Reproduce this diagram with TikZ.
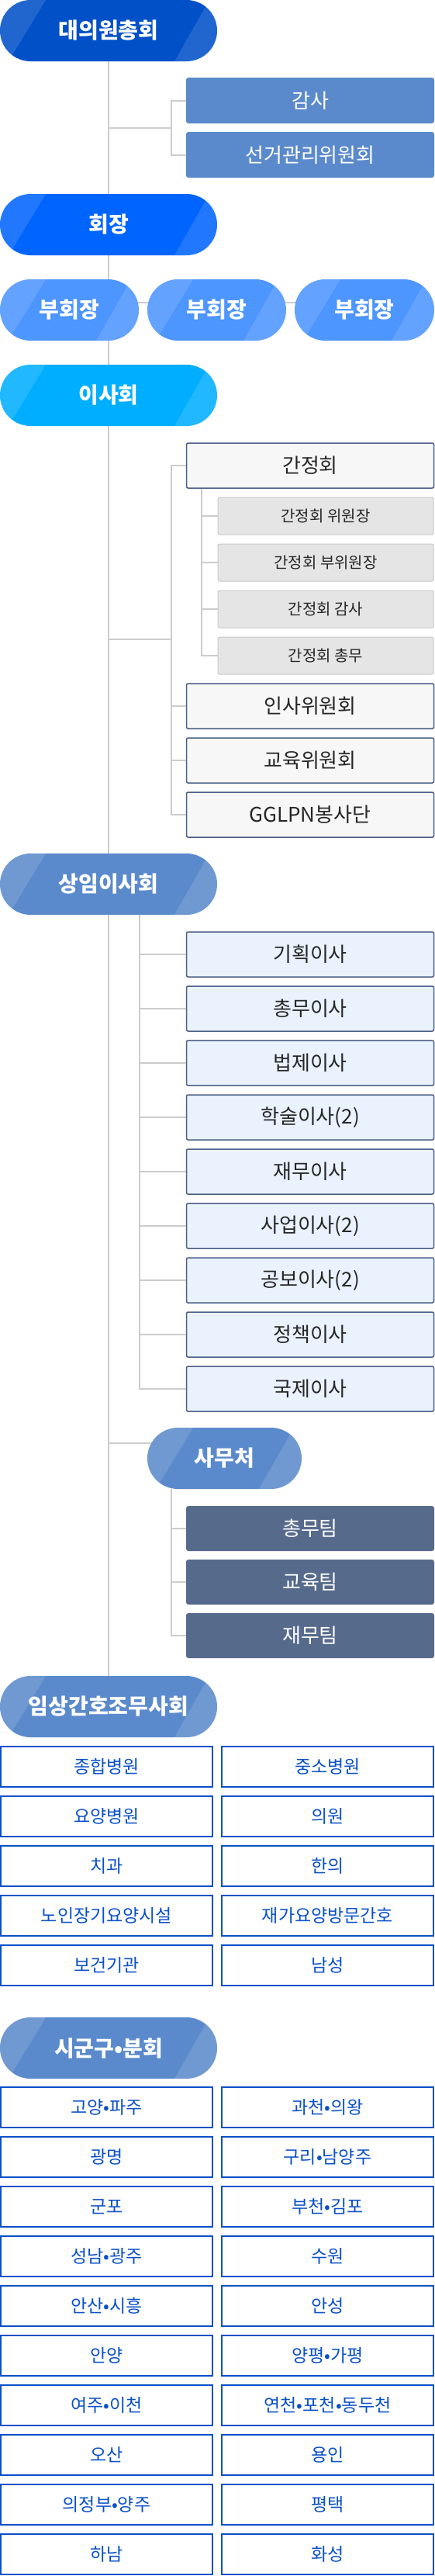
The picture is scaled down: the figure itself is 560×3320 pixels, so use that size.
\documentclass[tikz,border=0pt]{standalone}
\usepackage{fontspec}
\setmainfont{Noto Sans CJK KR}
\usetikzlibrary{positioning,backgrounds}
\definecolor{genblue}{HTML}{0050C8}
\definecolor{presblue}{HTML}{0064FF}
\definecolor{vpblue}{HTML}{4D95FF}
\definecolor{boardblue}{HTML}{00AEFF}
\definecolor{steel}{HTML}{5B8ACC}
\definecolor{slate}{HTML}{4B5F87}
\definecolor{team}{HTML}{566A8C}
\definecolor{gridblue}{HTML}{0A50C8}
\definecolor{lineclr}{HTML}{CCCCCC}
\definecolor{kidbg}{HTML}{F7F7F7}
\definecolor{subbg}{HTML}{E5E5E5}
\definecolor{subline}{HTML}{C8C8C8}
\definecolor{exbg}{HTML}{EAF2FE}

\begin{document}
\begin{tikzpicture}[x=1pt,y=-1pt,
    pill/.style={
      rounded corners=39.5pt,minimum width=280pt,minimum height=79pt,
      inner sep=0pt,outer sep=0pt,text=white,
      font=\fontsize{28}{32}\selectfont\bfseries,
      path picture={
        \fill[white,opacity=.13,sharp corners]
          (path picture bounding box.north west) --
          ([xshift=59pt]path picture bounding box.north west) --
          ([xshift=11pt]path picture bounding box.south west) --
          (path picture bounding box.south west) -- cycle;
        \fill[white,opacity=.13,sharp corners]
          ([xshift=-10pt]path picture bounding box.north east) --
          (path picture bounding box.north east) --
          (path picture bounding box.south east) --
          ([xshift=-55pt]path picture bounding box.south east) -- cycle;
      }
    },
    box/.style={
      minimum width=320pt,minimum height=59pt,inner sep=0pt,outer sep=0pt,
      font=\fontsize{26}{30}\selectfont
    },
    audbox/.style={box,fill=steel,text=white,rounded corners=3pt},
    kid/.style={box,minimum width=319pt,minimum height=58pt,draw=slate,
      line width=1.5pt,fill=kidbg,text=black!85,rounded corners=2pt},
    subkid/.style={box,minimum width=278pt,minimum height=48pt,
      draw=subline,line width=1pt,fill=subbg,text=black!85,
      font=\fontsize{20}{24}\selectfont,rounded corners=2pt},
    exkid/.style={kid,fill=exbg},
    teambox/.style={box,minimum height=58pt,fill=team,text=white,
      rounded corners=3pt},
    cell/.style={
      minimum width=273pt,minimum height=52pt,inner sep=0pt,outer sep=0pt,
      draw=gridblue,line width=1.2pt,text=gridblue,
      font=\fontsize{23}{27}\selectfont
    },
    link/.style={draw=lineclr,line width=2pt}
  ]
  \useasboundingbox (0,0) rectangle (560,3320);

  % The general assembly and its audit boxes.
  \node[pill,fill=genblue] (gen) at (140,39.5) {대의원총회};
  \node[audbox] (aud1) at (400,129.5) {감사};
  \node[audbox,below=11pt of aud1] (aud2) {선거관리위원회};

  % President and vice-presidents.
  \node[pill,fill=presblue] (pres) at (140,289.5) {회장};
  \node[pill,minimum width=179pt,fill=vpblue] (vp1) at (89.5,399.5) {부회장};
  \node[pill,minimum width=179pt,fill=vpblue,right=11pt of vp1] (vp2) {부회장};
  \node[pill,minimum width=180pt,fill=vpblue,right=11pt of vp2] (vp3) {부회장};

  % The board and its committees.
  \node[pill,fill=boardblue] (board) at (140,509.5) {이사회};
  \node[kid] (gan) at (400,600) {간정회};
  \node[subkid] (s1) at (420,665) {간정회 위원장};
  \node[subkid,below=12pt of s1] (s2) {간정회 부위원장};
  \node[subkid,below=12pt of s2] (s3) {간정회 감사};
  \node[subkid,below=12pt of s3] (s4) {간정회 총무};
  \node[kid] (ins) at (400,910) {인사위원회};
  \node[kid,below=12pt of ins] (edu) {교육위원회};
  \node[kid,below=12pt of edu] (ggl) {GGLPN봉사단};

  % Standing board.
  \node[pill,fill=steel] (exec) at (140,1139.5) {상임이사회};
  \foreach \t [count=\i] in {기획이사,총무이사,법제이사,학술이사(2),재무이사,
      사업이사(2),공보이사(2),정책이사,국제이사}
    \node[exkid] (x\i) at (400,{1160+70*\i}) {\t};

  % Secretariat and its teams.
  \node[pill,minimum width=199pt,fill=steel] (office) at (289.5,1879.5) {사무처};
  \node[teambox] (t1) at (400,1970) {총무팀};
  \node[teambox,below=11pt of t1] (t2) {교육팀};
  \node[teambox,below=11pt of t2] (t3) {재무팀};

  % Clinical divisions.
  \node[pill,fill=steel] (clin) at (140,2199.5) {임상간호조무사회};
  \foreach \a/\b [count=\i from 0] in {종합병원/중소병원,요양병원/의원,치과/한의,
      노인장기요양시설/재가요양방문간호,보건기관/남성} {
    \node[cell] (cl\i) at (137.5,{2277+64*\i}) {\a};
    \node[cell] (cr\i) at (422.5,{2277+64*\i}) {\b};
  }

  % Local branches.
  \node[pill,fill=steel] (local) at (140,2639.5) {시군구•분회};
  \foreach \a/\b [count=\i from 0] in {고양•파주/과천•의왕,광명/구리•남양주,
      군포/부천•김포,성남•광주/수원,안산•시흥/안성,안양/양평•가평,
      여주•이천/연천•포천•동두천,오산/용인,의정부•양주/평택,하남/화성} {
    \node[cell] (ll\i) at (137.5,{2716+64*\i}) {\a};
    \node[cell] (lr\i) at (422.5,{2716+64*\i}) {\b};
  }

  % Junctions of the branch lines.
  \coordinate (j1) at (221,165);
  \coordinate (j2) at (221,824);
  \coordinate (j3) at ([xshift=19.5pt]gan.south west);
  \coordinate (j4) at ([xshift=40pt]exec.south);
  \coordinate (j5) at ([xshift=-68.5pt]office.south);

  % Draw the connectors behind the boxes.
  \begin{scope}[on background layer]
    \draw[link] (gen) -- (pres);
    \draw[link] (pres) -- (board);
    \draw[link] (board) -- (clin);
    \draw[link] ([yshift=10pt]vp1.center) -- ([yshift=10pt]vp3.center);

    \draw[link] (j1) -- (j1 -| gen);
    \draw[link] (aud1.west) -| (j1) |- (aud2.west);

    \draw[link] (j2) -- (j2 -| board);
    \draw[link] (gan.west) -| (j2) |- (ggl.west);
    \foreach \n in {ins,edu}
      \draw[link] (\n.west) -- (\n.west -| j2);
    \draw[link] (j3) |- (s4.west);
    \foreach \i in {1,2,3}
      \draw[link] (s\i.west) -- (s\i.west -| j3);

    \draw[link] (j4) |- (x9.west);
    \foreach \i in {1,...,8}
      \draw[link] (x\i.west) -- (x\i.west -| j4);

    \draw[link] ([yshift=19.5pt]office.center) -- ([yshift=19.5pt]office.center -| board);
    \draw[link] (j5) |- (t3.west);
    \foreach \i in {1,2}
      \draw[link] (t\i.west) -- (t\i.west -| j5);
  \end{scope}
\end{tikzpicture}
\end{document}
